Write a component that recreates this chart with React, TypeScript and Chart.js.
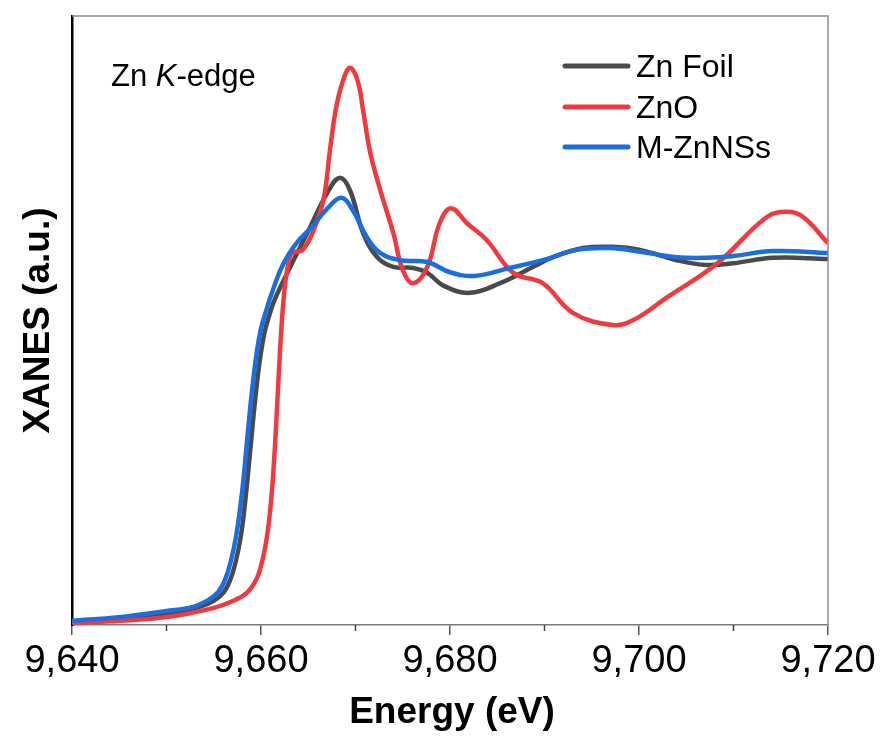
import React, { useEffect, useRef } from "react";
import { Chart, registerables } from "chart.js";

Chart.register(...registerables);

// Zn Foil
const foilEnergy = [9640, 9645, 9650, 9653.5, 9655.0, 9656.0, 9656.7, 9657.3, 9657.9, 9658.4, 9658.9, 9659.4, 9659.9, 9660.4, 9661.0, 9661.5, 9663.1, 9664.9, 9667.0, 9668.3, 9669.4, 9670.8, 9672.3, 9674.0, 9676.1, 9677.6, 9679.3, 9682.1, 9685.3, 9688.8, 9690.9, 9694.1, 9697.2, 9700.1, 9704.0, 9707.2, 9710.0, 9714.2, 9720];
const foilXanes = [0.005, 0.010, 0.018, 0.030, 0.040, 0.053, 0.073, 0.103, 0.150, 0.215, 0.295, 0.375, 0.440, 0.485, 0.518, 0.540, 0.592, 0.648, 0.714, 0.739, 0.719, 0.648, 0.608, 0.592, 0.590, 0.582, 0.561, 0.549, 0.565, 0.592, 0.608, 0.623, 0.625, 0.620, 0.603, 0.595, 0.598, 0.607, 0.605];

// ZnO
const znoEnergy = [9640, 9645, 9650, 9654.9, 9657.2, 9658.5, 9659.4, 9659.9, 9660.4, 9660.8, 9661.2, 9661.6, 9662.0, 9662.4, 9662.8, 9663.3, 9664.4, 9665.5, 9666.6, 9667.3, 9667.9, 9668.6, 9669.4, 9670.2, 9670.8, 9671.5, 9672.3, 9673.1, 9674.0, 9675.0, 9676.1, 9677.6, 9678.9, 9680.1, 9681.8, 9683.9, 9686.7, 9689.8, 9693.0, 9697.2, 9699.4, 9703.0, 9708.3, 9713.5, 9715.7, 9717.4, 9720];
const znoXanes = [0.003, 0.007, 0.013, 0.028, 0.041, 0.053, 0.072, 0.092, 0.125, 0.165, 0.230, 0.330, 0.450, 0.540, 0.590, 0.615, 0.620, 0.650, 0.702, 0.785, 0.851, 0.896, 0.921, 0.901, 0.851, 0.785, 0.736, 0.694, 0.648, 0.587, 0.565, 0.592, 0.664, 0.689, 0.664, 0.636, 0.582, 0.565, 0.516, 0.496, 0.504, 0.542, 0.598, 0.674, 0.683, 0.674, 0.631];

// M-ZnNSs
const mznEnergy = [9640, 9645, 9650, 9652.8, 9654.5, 9655.5, 9656.2, 9656.8, 9657.4, 9658.0, 9658.5, 9659.0, 9659.5, 9660.0, 9660.6, 9661.0, 9662.3, 9663.8, 9665.5, 9667.0, 9668.5, 9669.7, 9671.2, 9672.6, 9674.7, 9677.6, 9680.0, 9682.6, 9686.3, 9689.8, 9693.4, 9696.9, 9700.1, 9704.0, 9707.2, 9710.0, 9714.2, 9720];
const mznXanes = [0.007, 0.013, 0.023, 0.030, 0.042, 0.055, 0.075, 0.105, 0.150, 0.220, 0.300, 0.380, 0.445, 0.490, 0.522, 0.542, 0.595, 0.632, 0.660, 0.688, 0.706, 0.686, 0.641, 0.615, 0.603, 0.600, 0.583, 0.577, 0.590, 0.603, 0.620, 0.623, 0.617, 0.608, 0.607, 0.610, 0.618, 0.615];

const seriesNames = ["Zn Foil", "ZnO", "M-ZnNSs"];
const seriesColors = ["#4a4a4a", "#ef3b40", "#1c6edf"];
const xTickValues = [9640, 9660, 9680, 9700, 9720];

const FONT = "'Liberation Sans', Arial, sans-serif";

const toPoints = (xs: number[], ys: number[]) => xs.map((x, i) => ({ x, y: ys[i] }));

const decorPlugin = {
  id: "decor",
  afterDraw(chart: any) {
    const { ctx, chartArea } = chart;
    const { left, right, top, bottom } = chartArea;
    const xs = chart.scales.x;
    ctx.save();
    // frame (top/right)
    ctx.strokeStyle = "#8a8a8a";
    ctx.lineWidth = 1.5;
    ctx.beginPath();
    ctx.moveTo(left, top);
    ctx.lineTo(right, top);
    ctx.lineTo(right, bottom);
    ctx.stroke();
    // minor ticks
    ctx.strokeStyle = "#444";
    ctx.lineWidth = 1.5;
    for (let v = 9650; v < 9720; v += 20) {
      const px = xs.getPixelForValue(v);
      ctx.beginPath();
      ctx.moveTo(px, bottom);
      ctx.lineTo(px, bottom + 6);
      ctx.stroke();
    }
    // legend
    const legY = [66, 107, 147];
    seriesNames.forEach((name, i) => {
      ctx.strokeStyle = seriesColors[i];
      ctx.lineWidth = 5;
      ctx.lineCap = "round";
      ctx.beginPath();
      ctx.moveTo(565, legY[i]);
      ctx.lineTo(628, legY[i]);
      ctx.stroke();
      ctx.fillStyle = "#000";
      ctx.font = `32px ${FONT}`;
      ctx.textBaseline = "alphabetic";
      ctx.textAlign = "left";
      ctx.fillText(name, 636, legY[i] + 11);
    });
    // annotation
    ctx.fillStyle = "#000";
    ctx.textBaseline = "alphabetic";
    ctx.textAlign = "left";
    let ax = 111;
    const ay = 86;
    ctx.font = `31px ${FONT}`;
    ctx.fillText("Zn ", ax, ay);
    ax += ctx.measureText("Zn ").width;
    ctx.font = `italic 31px ${FONT}`;
    ctx.fillText("K", ax, ay);
    ax += ctx.measureText("K").width;
    ctx.font = `31px ${FONT}`;
    ctx.fillText("-edge", ax, ay);
    // axis titles
    ctx.font = `bold 37px ${FONT}`;
    ctx.textAlign = "center";
    ctx.fillText("Energy (eV)", 452, 723);
    ctx.save();
    ctx.translate(49, (top + bottom) / 2);
    ctx.rotate(-Math.PI / 2);
    ctx.fillText("XANES (a.u.)", 0, 0);
    ctx.restore();
    ctx.restore();
  },
};

export default function App() {
  const canvasRef = useRef<HTMLCanvasElement | null>(null);

  useEffect(() => {
    document.body.style.margin = "0";
    const canvas = canvasRef.current;
    if (!canvas) return;
    const datasets = [
      { label: seriesNames[0], data: toPoints(foilEnergy, foilXanes), borderColor: seriesColors[0], order: 2 },
      { label: seriesNames[1], data: toPoints(znoEnergy, znoXanes), borderColor: seriesColors[1], order: 1 },
      { label: seriesNames[2], data: toPoints(mznEnergy, mznXanes), borderColor: seriesColors[2], order: 0 },
    ].map((d) => ({
      ...d,
      borderWidth: 4.5,
      pointRadius: 0,
      fill: false,
      showLine: true,
      tension: 0.4,
    }));

    const chart = new Chart(canvas, {
      type: "line",
      data: { datasets },
      options: {
        animation: false,
        responsive: false,
        devicePixelRatio: 1,
        layout: { padding: { top: 16, right: 53, left: 0, bottom: 0 } },
        plugins: { legend: { display: false }, tooltip: { enabled: false } },
        scales: {
          x: {
            type: "linear",
            min: 9640,
            max: 9720,
            afterBuildTicks: (scale: any) => {
              scale.ticks = xTickValues.map((value) => ({ value }));
            },
            afterFit: (scale: any) => {
              scale.height = 113;
            },
            ticks: {
              color: "#000",
              font: { family: FONT, size: 38 },
              padding: 4,
              maxRotation: 0,
              autoSkip: false,
              callback: (v: any) => Number(v).toLocaleString("en-US"),
            },
            grid: { drawOnChartArea: false, tickLength: 10, color: "#555", lineWidth: 1.5 },
            border: { display: true, color: "#7a7a7a", width: 1.5 },
          },
          y: {
            type: "linear",
            min: 0,
            max: 1.0066,
            afterFit: (scale: any) => {
              scale.width = 72;
            },
            ticks: { display: false },
            grid: { display: false, drawTicks: false },
            border: { display: true, color: "#000", width: 2.5 },
          },
        },
      },
      plugins: [decorPlugin],
    });
    return () => chart.destroy();
  }, []);

  return <canvas ref={canvasRef} width={881} height={738} style={{ display: "block" }} />;
}
